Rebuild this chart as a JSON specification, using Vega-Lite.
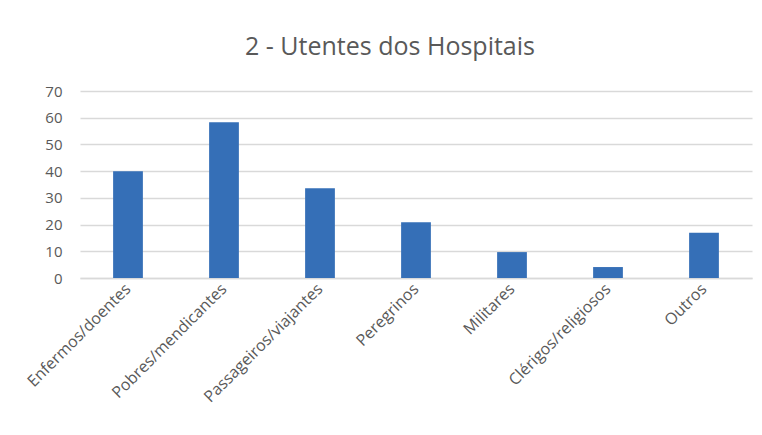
{
  "$schema": "https://vega.github.io/schema/vega-lite/v6.json",
  "autosize": "none",
  "width": 672,
  "height": 187,
  "padding": {"left": 80, "top": 91, "right": 10, "bottom": 157},
  "background": "white",
  "title": {
    "text": "2 - Utentes dos Hospitais",
    "fontSize": 25,
    "fontWeight": "normal",
    "font": "Open Sans",
    "color": "#595959",
    "anchor": "middle",
    "dx": -26,
    "offset": 24
  },
  "data": {
    "values": [
      {"categoria": "Enfermos/doentes", "valor": 40},
      {"categoria": "Pobres/mendicantes", "valor": 58.3},
      {"categoria": "Passageiros/viajantes", "valor": 33.6},
      {"categoria": "Peregrinos", "valor": 20.9},
      {"categoria": "Militares", "valor": 9.7},
      {"categoria": "Clérigos/religiosos", "valor": 4.1},
      {"categoria": "Outros", "valor": 16.9}
    ]
  },
  "mark": {"type": "bar", "color": "#356fb7"},
  "encoding": {
    "x": {
      "field": "categoria",
      "type": "nominal",
      "sort": null,
      "title": null,
      "scale": {"paddingInner": 0.69, "paddingOuter": 0.345},
      "axis": {
        "labelAngle": -45,
        "labelAlign": "right",
        "labelBaseline": "middle",
        "labelFont": "Open Sans",
        "labelFontSize": 16,
        "labelColor": "#595959",
        "labelPadding": 8,
        "labelLimit": 250,
        "ticks": false,
        "domainColor": "#d9d9d9",
        "domainWidth": 1.5
      }
    },
    "y": {
      "field": "valor",
      "type": "quantitative",
      "title": null,
      "scale": {"domain": [0, 70]},
      "axis": {
        "values": [0, 10, 20, 30, 40, 50, 60, 70],
        "labelFont": "Open Sans",
        "labelFontSize": 15,
        "labelColor": "#595959",
        "labelPadding": 18,
        "ticks": false,
        "domain": false,
        "gridColor": "#d9d9d9",
        "gridWidth": 1.5
      }
    }
  },
  "config": {"view": {"stroke": null}}
}
